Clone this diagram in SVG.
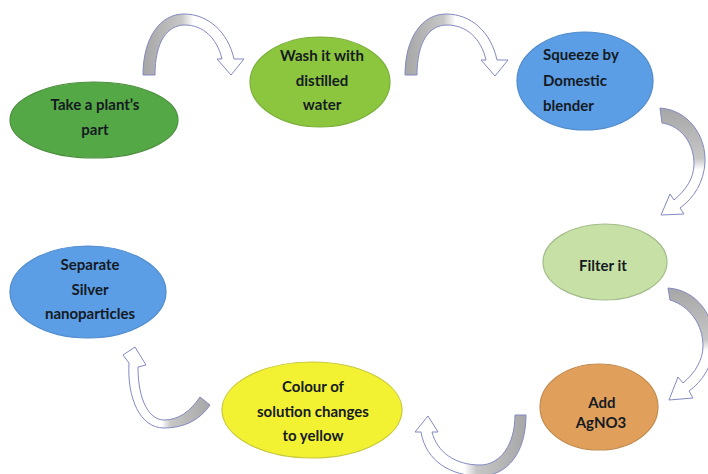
<svg xmlns="http://www.w3.org/2000/svg" width="708" height="474" viewBox="0 0 708 474">
<style>
  .lbl { font-family: "Lato", "Liberation Sans", sans-serif; font-weight: bold; font-size: 15px; fill: #151a22; text-anchor: middle; }
  .left { text-anchor: start; }
  .node { stroke-width: 1.2; }
  .arrow { stroke: #8389c2; stroke-width: 1; stroke-linejoin: round; }
</style>
<defs>
  <linearGradient id="g1" gradientUnits="userSpaceOnUse" x1="143" y1="0" x2="244" y2="0">
    <stop offset="0" stop-color="#a6a6a6"/>
    <stop offset="0.38" stop-color="#c6c6c6"/>
    <stop offset="0.5" stop-color="#ffffff"/>
  </linearGradient>
  <linearGradient id="g2" gradientUnits="userSpaceOnUse" x1="405" y1="0" x2="506" y2="0">
    <stop offset="0" stop-color="#a6a6a6"/>
    <stop offset="0.38" stop-color="#c6c6c6"/>
    <stop offset="0.5" stop-color="#ffffff"/>
  </linearGradient>
  <linearGradient id="g3" gradientUnits="userSpaceOnUse" x1="0" y1="108" x2="0" y2="220">
    <stop offset="0" stop-color="#a6a6a6"/>
    <stop offset="0.45" stop-color="#c6c6c6"/>
    <stop offset="0.55" stop-color="#ffffff"/>
  </linearGradient>
  <linearGradient id="g4" gradientUnits="userSpaceOnUse" x1="0" y1="288" x2="0" y2="402">
    <stop offset="0" stop-color="#a6a6a6"/>
    <stop offset="0.45" stop-color="#c6c6c6"/>
    <stop offset="0.55" stop-color="#ffffff"/>
  </linearGradient>
  <linearGradient id="g5" gradientUnits="userSpaceOnUse" x1="527" y1="0" x2="415" y2="0">
    <stop offset="0" stop-color="#a6a6a6"/>
    <stop offset="0.45" stop-color="#c6c6c6"/>
    <stop offset="0.56" stop-color="#ffffff"/>
  </linearGradient>
  <linearGradient id="g6" gradientUnits="userSpaceOnUse" x1="210" y1="0" x2="123" y2="0">
    <stop offset="0" stop-color="#a6a6a6"/>
    <stop offset="0.45" stop-color="#c6c6c6"/>
    <stop offset="0.56" stop-color="#ffffff"/>
  </linearGradient>
</defs>
<rect width="708" height="474" fill="#ffffff"/>

<g id="connectors">
  <path class="arrow" fill="url(#g1)" d="M143,75 C143,38 160,14 184,14 C208,14 228,32 234,59 L244,59 L231,75 L217,59 L222,59 C217,38 203,25 185,25 C167,25 155,42 155,75 Z"/>
  <path class="arrow" fill="url(#g2)" d="M405,75 C405,38 422,14 446,14 C471,14 491,32 497,60 L508,60 L495,76 L481,60 L486,60 C481,38 466,25 447,25 C429,25 417,42 417,75 Z"/>
  <path class="arrow" fill="url(#g3)" d="M660,108 C688,110 706,135 705,162 C704,182 694,198 680,208 L684,214 L661,215 L670,194 L674,200 C686,190 694,178 694,164 C694,144 682,126 662,123 Z"/>
  <path class="arrow" fill="url(#g4)" d="M668,288 C697,290 715,316 714,344 C713,365 703,381 689,391 L693,398 L669,400 L678,377 L683,383 C695,373 703,360 703,346 C703,325 690,306 670,300 Z"/>
  <path class="arrow" fill="url(#g5)" d="M526,415 C526,452 508,476 480,476 C452,476 426,462 421,432 L415,432 L428,416 L438,432 L432,432 C437,452 455,465 480,465 C500,465 515,445 515,415 Z"/>
  <path class="arrow" fill="url(#g6)" d="M200,397 C190,412 178,420 164,420 C150,420 138,402 138,367 L146,365 L135,347 L123,355 L129,363 C127,398 140,428 164,428 C184,428 200,420 210,405 Z"/>
</g>

<g id="node1">
  <ellipse class="node" cx="94" cy="120" rx="84" ry="38" fill="#55a846" stroke="#4b8f3e"/>
  <text class="lbl" x="95" y="110">Take a plant’s</text>
  <text class="lbl" x="95" y="135">part</text>
</g>
<g id="node2">
  <ellipse class="node" cx="320" cy="82" rx="70" ry="45" fill="#8cc63e" stroke="#7aae38"/>
  <text class="lbl" x="322" y="61">Wash it with</text>
  <text class="lbl" x="322" y="86">distilled</text>
  <text class="lbl" x="322" y="110">water</text>
</g>
<g id="node3">
  <ellipse class="node" cx="585" cy="81" rx="68" ry="49" fill="#5b9ee6" stroke="#4f8acb"/>
  <text class="lbl left" x="543" y="60">Squeeze by</text>
  <text class="lbl left" x="543" y="86">Domestic</text>
  <text class="lbl left" x="543" y="111">blender</text>
</g>
<g id="node4">
  <ellipse class="node" cx="605" cy="262" rx="62" ry="38" fill="#c6e0a6" stroke="#a3bd8c"/>
  <text class="lbl" x="603" y="271">Filter it</text>
</g>
<g id="node5">
  <ellipse class="node" cx="599" cy="407" rx="59" ry="43" fill="#e0a05c" stroke="#c48a4e"/>
  <text class="lbl" x="602" y="408">Add</text>
  <text class="lbl" x="601" y="428">AgNO3</text>
</g>
<g id="node6">
  <ellipse class="node" cx="312" cy="410" rx="90" ry="48" fill="#f2f232" stroke="#c8c83a"/>
  <text class="lbl" x="313" y="392">Colour of</text>
  <text class="lbl" x="313" y="417">solution changes</text>
  <text class="lbl" x="313" y="441">to yellow</text>
</g>
<g id="node7">
  <ellipse class="node" cx="88" cy="292" rx="78" ry="46" fill="#5b9ee6" stroke="#4f8acb"/>
  <text class="lbl" x="90" y="270">Separate</text>
  <text class="lbl" x="90" y="295">Silver</text>
  <text class="lbl" x="90" y="319">nanoparticles</text>
</g>
</svg>
